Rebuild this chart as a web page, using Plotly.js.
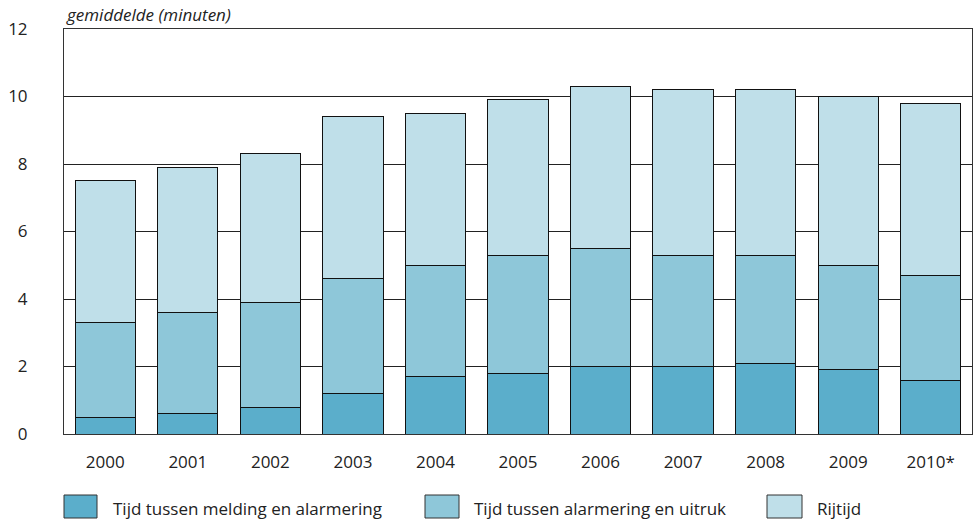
<!DOCTYPE html>
<html>
<head>
<meta charset="utf-8">
<script src="https://cdn.plot.ly/plotly-3.0.1.min.js"></script>
<style>html,body{margin:0;padding:0;background:#fff;}#chart{width:973px;height:526px;}</style>
</head>
<body>
<div id="chart"></div>
<script>
const years = ["2000","2001","2002","2003","2004","2005","2006","2007","2008","2009","2010*"];
const meldingAlarmering = [0.5, 0.6, 0.8, 1.2, 1.7, 1.8, 2.0, 2.0, 2.1, 1.9, 1.6];
const alarmeringUitruk = [2.8, 3.0, 3.1, 3.4, 3.3, 3.5, 3.5, 3.3, 3.2, 3.1, 3.1];
const rijtijd = [4.2, 4.3, 4.4, 4.8, 4.5, 4.6, 4.8, 4.9, 4.9, 5.0, 5.1];
const seriesNames = ["Tijd tussen melding en alarmering", "Tijd tussen alarmering en uitruk", "Rijtijd"];
const colors = ["#5BAECB", "#8EC7D9", "#BFDFE9"];
const yTicks = [0, 2, 4, 6, 8, 10, 12];

const font = "Open Sans, Noto Sans, sans-serif";
const dataSets = [meldingAlarmering, alarmeringUitruk, rijtijd];
const traces = dataSets.map((d, i) => ({
  type: "bar", x: years, y: d, name: seriesNames[i],
  marker: {color: colors[i], line: {color: "#111", width: 1}},
  hoverinfo: "y+name"
}));

const W = 908, H = 405, L = 64, B = 434;
const px = v => (v - L) / W;
const py = v => (B - v) / H;
const legendBoxes = [[64, 97], [425, 459], [767, 802]];
const legendText = [111, 472, 815];
const shapes = legendBoxes.map((b, i) => ({
  type: "rect", xref: "paper", yref: "paper",
  x0: px(b[0]), x1: px(b[1]), y0: py(495), y1: py(518),
  fillcolor: colors[i], line: {color: "#333", width: 1}
}));
const annotations = seriesNames.map((n, i) => ({
  text: n, xref: "paper", yref: "paper", x: px(legendText[i]), y: py(508),
  xanchor: "left", yanchor: "middle", showarrow: false,
  font: {family: font, size: 17, color: "#222"}
}));
annotations.push({
  text: "<i>gemiddelde (minuten)</i>", xref: "paper", yref: "paper",
  x: 0, y: py(14), xanchor: "left", yanchor: "middle", showarrow: false,
  font: {family: font, size: 17, color: "#222"}
});

const layout = {
  width: 973, height: 526,
  margin: {l: 64, r: 1, t: 29, b: 92, pad: 0},
  barmode: "stack", bargap: 0.27,
  showlegend: false,
  paper_bgcolor: "#fff", plot_bgcolor: "#fff",
  font: {family: font, size: 17, color: "#222"},
  xaxis: {
    type: "category", showgrid: false, zeroline: false,
    showline: true, linecolor: "#333", linewidth: 1, mirror: true,
    ticks: "", ticklabelstandoff: 13,
    tickfont: {family: font, size: 17, color: "#222"}
  },
  yaxis: {
    range: [0, 12], tickvals: yTicks, ticktext: yTicks.map(String),
    showgrid: true, gridcolor: "#222", gridwidth: 1,
    zeroline: false, showline: true, linecolor: "#333", linewidth: 1, mirror: true,
    ticks: "", ticklabelstandoff: 32,
    tickfont: {family: font, size: 17, color: "#222"}
  },
  shapes: shapes,
  annotations: annotations
};

Plotly.newPlot("chart", traces, layout, {displayModeBar: false, staticPlot: true});
</script>
</body>
</html>
